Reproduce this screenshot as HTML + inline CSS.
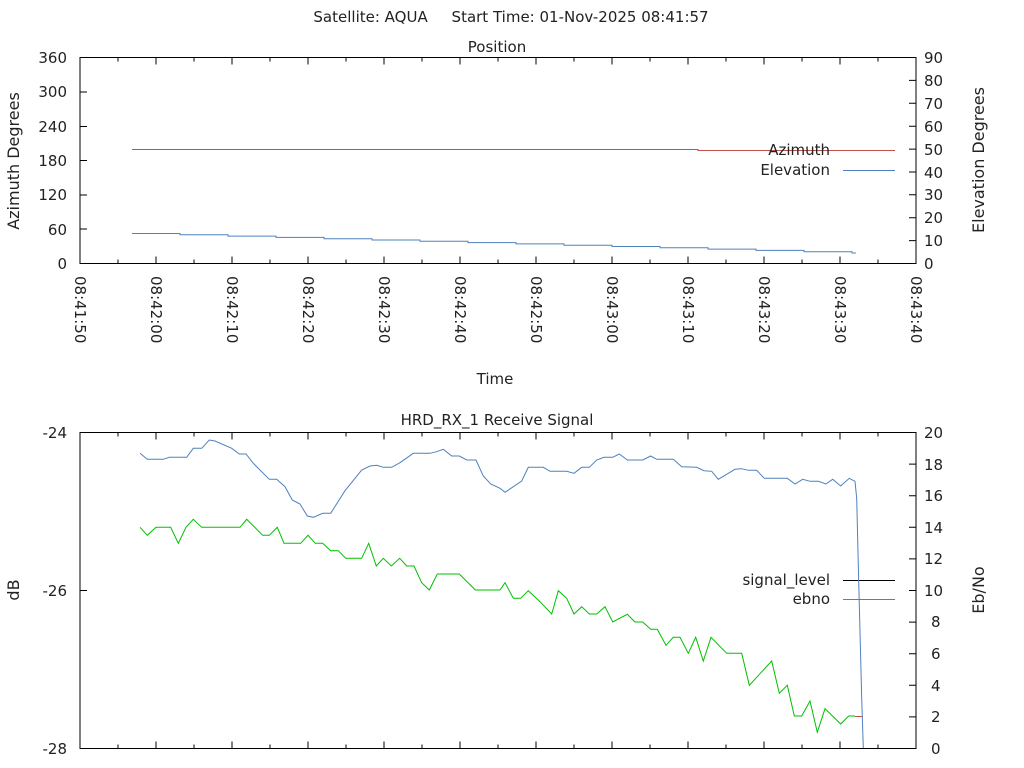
<!DOCTYPE html>
<html><head><meta charset="utf-8"><style>
html,body{margin:0;padding:0;background:#fff;}
svg{display:block;font-family:"DejaVu Sans","Liberation Sans",sans-serif;}
text{fill:#222;font-size:15px;white-space:pre;}
</style></head><body>
<svg width="1024" height="768" viewBox="0 0 1024 768" xmlns="http://www.w3.org/2000/svg" xml:space="preserve">
<text x="511" y="22" text-anchor="middle">Satellite: AQUA     Start Time: 01-Nov-2025 08:41:57</text>
<text x="497" y="52" text-anchor="middle">Position</text>
<rect x="80" y="57.5" width="836" height="206" fill="none" stroke="#000" stroke-width="1"/>
<g stroke="#000" stroke-width="1">
<path d="M80 92h7M80 126.5h7M80 160.5h7M80 195h7M80 229h7"/>
<path d="M916 80.4h-7M916 103.3h-7M916 126.2h-7M916 149.1h-7M916 172h-7M916 194.8h-7M916 217.7h-7M916 240.6h-7"/>
<path d="M156 263.5v-7M232 263.5v-7M308 263.5v-7M384 263.5v-7M460 263.5v-7M536 263.5v-7M612 263.5v-7M688 263.5v-7M764 263.5v-7M840 263.5v-7"/>
<path d="M118 263.5v-4M194 263.5v-4M270 263.5v-4M346 263.5v-4M422 263.5v-4M498 263.5v-4M574 263.5v-4M650 263.5v-4M726 263.5v-4M802 263.5v-4M878 263.5v-4"/>
<path d="M156 57.5v7M232 57.5v7M308 57.5v7M384 57.5v7M460 57.5v7M536 57.5v7M612 57.5v7M688 57.5v7M764 57.5v7M840 57.5v7"/>
<path d="M118 57.5v4M194 57.5v4M270 57.5v4M346 57.5v4M422 57.5v4M498 57.5v4M574 57.5v4M650 57.5v4M726 57.5v4M802 57.5v4M878 57.5v4"/>
</g>
<g text-anchor="end">
<text x="67" y="63">360</text><text x="67" y="97">300</text><text x="67" y="132">240</text><text x="67" y="166">180</text><text x="67" y="200">120</text><text x="67" y="235">60</text><text x="67" y="269">0</text>
</g>
<g>
<text x="924" y="63">90</text><text x="924" y="86">80</text><text x="924" y="109">70</text><text x="924" y="132">60</text><text x="924" y="155">50</text><text x="924" y="178">40</text><text x="924" y="200">30</text><text x="924" y="223">20</text><text x="924" y="246">10</text><text x="924" y="269">0</text>
</g>
<text transform="translate(19,161) rotate(-90)" text-anchor="middle" style="font-size:16px">Azimuth Degrees</text>
<text transform="translate(984,160) rotate(-90)" text-anchor="middle" style="font-size:16px">Elevation Degrees</text>
<g>
<text transform="translate(75,276) rotate(90)">08:41:50</text>
<text transform="translate(151,276) rotate(90)">08:42:00</text>
<text transform="translate(227,276) rotate(90)">08:42:10</text>
<text transform="translate(303,276) rotate(90)">08:42:20</text>
<text transform="translate(379,276) rotate(90)">08:42:30</text>
<text transform="translate(455,276) rotate(90)">08:42:40</text>
<text transform="translate(531,276) rotate(90)">08:42:50</text>
<text transform="translate(607,276) rotate(90)">08:43:00</text>
<text transform="translate(683,276) rotate(90)">08:43:10</text>
<text transform="translate(759,276) rotate(90)">08:43:20</text>
<text transform="translate(835,276) rotate(90)">08:43:30</text>
<text transform="translate(911,276) rotate(90)">08:43:40</text>
</g>
<text x="495" y="384" text-anchor="middle">Time</text>
<path d="M132 149.5H698V150.5H856" stroke="#c0504d" stroke-width="1" fill="none"/>
<path d="M132 233.5H180V234.8H228V236.1H276V237.4H324V238.7H372V240H420V241.3H468V242.6H516V243.9H564V245.2H612V246.5H660V247.8H708V249.1H756V250.4H804V251.7H852V253H856" stroke="#4f81bd" stroke-width="1" fill="none"/>
<text x="830" y="155" text-anchor="end">Azimuth</text>
<text x="830" y="175" text-anchor="end">Elevation</text>
<path d="M843 150.5H895" stroke="#c0504d"/>
<path d="M843 170.5H895" stroke="#4f81bd"/>

<text x="497" y="425" text-anchor="middle">HRD_RX_1 Receive Signal</text>
<rect x="80" y="432.5" width="836" height="316" fill="none" stroke="#000" stroke-width="1"/>
<g stroke="#000" stroke-width="1">
<path d="M80 590.5h7"/>
<path d="M916 464.1h-7M916 495.7h-7M916 527.3h-7M916 558.9h-7M916 590.5h-7M916 622.1h-7M916 653.7h-7M916 685.3h-7M916 716.9h-7"/>
<path d="M156 748.5v-7M232 748.5v-7M308 748.5v-7M384 748.5v-7M460 748.5v-7M536 748.5v-7M612 748.5v-7M688 748.5v-7M764 748.5v-7M840 748.5v-7"/>
<path d="M118 748.5v-4M194 748.5v-4M270 748.5v-4M346 748.5v-4M422 748.5v-4M498 748.5v-4M574 748.5v-4M650 748.5v-4M726 748.5v-4M802 748.5v-4M878 748.5v-4"/>
<path d="M156 432.5v7M232 432.5v7M308 432.5v7M384 432.5v7M460 432.5v7M536 432.5v7M612 432.5v7M688 432.5v7M764 432.5v7M840 432.5v7"/>
<path d="M118 432.5v4M194 432.5v4M270 432.5v4M346 432.5v4M422 432.5v4M498 432.5v4M574 432.5v4M650 432.5v4M726 432.5v4M802 432.5v4M878 432.5v4"/>
</g>
<g text-anchor="end">
<text x="67" y="438">-24</text><text x="67" y="596">-26</text><text x="67" y="754">-28</text>
</g>
<g>
<text x="924" y="438">20</text><text x="924" y="470">18</text><text x="924" y="501">16</text><text x="924" y="533">14</text><text x="924" y="564">12</text><text x="924" y="596">10</text><text x="931" y="627">8</text><text x="931" y="659">6</text><text x="931" y="691">4</text><text x="931" y="722">2</text><text x="931" y="754">0</text>
</g>
<text transform="translate(19,590) rotate(-90)" text-anchor="middle" style="font-size:16px">dB</text>
<text transform="translate(984,590) rotate(-90)" text-anchor="middle" style="font-size:16px">Eb/No</text>
<text x="830" y="585" text-anchor="end">signal_level</text>
<text x="830" y="604" text-anchor="end">ebno</text>
<path d="M843 580.5H895" stroke="#000"/>
<path d="M843 599.5H895" stroke="#4f81bd"/>
<polyline fill="none" stroke="#00c000" stroke-width="1" points="140,527.3 147.3,535.3 156,527.3 170.7,527.3 178.3,543.3 186,527.3 193.3,519.3 201.7,527.3 240,527.3 246.7,519.3 262.7,535.3 269.3,535.3 277.3,527.3 284,543.3 300.7,543.3 308,535.3 315.3,543.3 322.7,543.3 330.7,550.7 338.3,550.7 345.7,558.3 361.7,558.3 368.7,543.3 376.3,566 383.3,558.3 391.3,566 399.7,558.3 406.7,566 414,566 421.7,582.7 429.3,590 437.3,574 459.3,574 475.3,590 500,590 505,582.7 513.3,598.3 520.7,598.3 528.3,590.7 540,601.7 551.7,614 558.3,590.7 566.7,598.3 574,614 581.7,606.7 589.3,614 596.7,614 605,606.7 612.7,622 627.3,614.3 635,622 642.7,622 650.7,629.3 657.3,629.3 666,645.3 673.3,637.3 680,637.3 688.3,653.3 695.7,637.3 703.3,661 711,637.3 726.7,653.3 741.7,653.3 749.3,685.3 771.7,661 779.3,693.3 787.3,685.3 794.3,716 801.7,716 810,701 817.3,732.3 825,708.7 840.7,724 848.7,716 855,716"/>
<path d="M855 716.5H863" stroke="#c0504d"/>
<polyline fill="none" stroke="#4f81bd" stroke-width="1" points="140,453.3 147.3,459.3 163.3,459.3 169.3,457.3 186.7,457.3 193.3,448.3 201.7,448.3 209.3,440 215,441 231.7,448.3 239.3,454 246,454 253.3,463.3 269.3,479.3 276.7,479.3 285,486.7 292.3,500 300,504 307.3,516 313.3,517.3 322.7,513.3 330.7,513.3 345,490.7 361.7,470 370,466 376.7,465.3 383.3,467.3 391.7,467.3 400,462.7 413.3,453.3 430,453.3 436.7,451.7 443.3,449.3 451.7,456 459.3,456 466.7,460 476,460 483.3,476 490.7,484 500,488.3 505,492.3 513.3,486.7 521.7,481 528.3,467.3 543.3,467.3 550,471.3 566.7,471.3 574,473.3 581.7,467.3 589.3,467.3 596.7,460 604,457.3 612.7,457.3 619.3,454 627.3,460 642.7,460 650.7,456 656.7,459.3 673.3,459.3 681.7,466.7 696.7,467.3 704,470.7 711.7,471.3 718.3,479.3 728.3,473.3 735,469.3 741.7,468.7 748.3,470.3 756.7,470.3 764.3,478.3 787.3,478.3 795,484 802.7,479.3 810,481.3 818.3,481.3 826,484 832.7,479.3 840.7,486 849.3,478.3 855,481.3 856.7,498.3 858.3,565 860,631.7 861.7,698.3 863.3,748"/>
</svg>
</body></html>
